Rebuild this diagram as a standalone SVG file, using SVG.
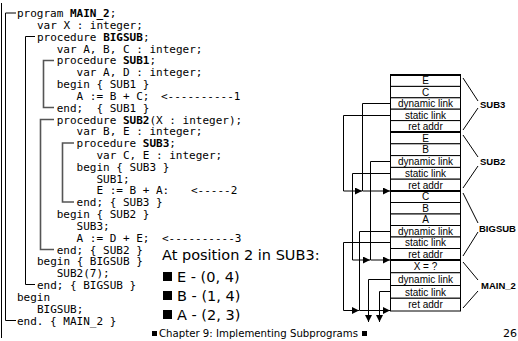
<svg xmlns="http://www.w3.org/2000/svg" width="518" height="341" viewBox="0 0 518 341">
<style>
.code{font-family:"DejaVu Sans Mono",monospace;font-size:11px;fill:#000;white-space:pre}
.b{font-weight:bold}
.br{fill:none;stroke:#000;stroke-width:1}
.br2{fill:none;stroke:#555;stroke-width:1.6}
.cell{font-family:"Liberation Sans",Arial,sans-serif;font-size:10px;fill:#000;text-anchor:middle}
.lab{font-family:"Liberation Sans",Arial,sans-serif;font-size:9.5px;font-weight:bold;fill:#000}
.big{font-family:"DejaVu Sans",Verdana,sans-serif;font-size:14.5px;fill:#000}
.foot{font-family:"DejaVu Sans",Verdana,sans-serif;font-size:10px;fill:#000}
.row{fill:#fff;stroke:#000;stroke-width:1}
.sep{stroke:#000;stroke-width:2}
.conn{fill:none;stroke:#000;stroke-width:1}
.brace{fill:none;stroke:#000;stroke-width:1}
</style>
<defs>
<marker id="ah" markerUnits="userSpaceOnUse" markerWidth="7" markerHeight="7" refX="7" refY="3.5" orient="auto">
<path d="M0,0 L7,3.5 L0,7 z" fill="#000"/>
</marker>
</defs>
<rect width="518" height="341" fill="#fff"/>

<g id="code">
<line x1="1.5" y1="3" x2="1.5" y2="338" class="br"/>
<path class="br" d="M16,13 H5.5 V320.5 H16"/>
<path class="br" d="M35,36.5 H25.5 V284.5 H35"/>
<path class="br2" d="M54,60.5 H43.5 V107.5 H54"/>
<path class="br2" d="M54,119.5 H40.5 V249.5 H54"/>
<path class="br2" d="M74,143 H62.5 V202 H74"/>
<text class="code" x="17" y="17">program <tspan class="b">MAIN_2</tspan>;</text>
<text class="code" x="36.9" y="28.8">var X : integer;</text>
<text class="code" x="36.9" y="40.7">procedure <tspan class="b">BIGSUB</tspan>;</text>
<text class="code" x="56.7" y="52.5">var A, B, C : integer;</text>
<text class="code" x="56.7" y="64.3">procedure <tspan class="b">SUB1</tspan>;</text>
<text class="code" x="76.6" y="76.2">var A, D : integer;</text>
<text class="code" x="56.7" y="88">begin { SUB1 }</text>
<text class="code" x="76.6" y="99.8">A := B + C;</text>
<text class="code" x="161" y="99.8">&lt;----------1</text>
<text class="code" x="56.7" y="111.6">end;  { SUB1 }</text>
<text class="code" x="56.7" y="123.5">procedure <tspan class="b">SUB2</tspan>(X : integer);</text>
<text class="code" x="76.6" y="135.3">var B, E : integer;</text>
<text class="code" x="76.6" y="147.1">procedure <tspan class="b">SUB3</tspan>;</text>
<text class="code" x="96.4" y="159">var C, E : integer;</text>
<text class="code" x="76.6" y="170.8">begin { SUB3 }</text>
<text class="code" x="96.4" y="182.6">SUB1;</text>
<text class="code" x="96.4" y="194.4">E := B + A:</text>
<text class="code" x="191" y="194.4">&lt;-----2</text>
<text class="code" x="76.6" y="206.3">end; { SUB3 }</text>
<text class="code" x="56.7" y="218.1">begin { SUB2 }</text>
<text class="code" x="76.6" y="229.9">SUB3;</text>
<text class="code" x="76.6" y="241.8">A := D + E;</text>
<text class="code" x="162" y="241.8">&lt;----------3</text>
<text class="code" x="56.7" y="253.6">end; { SUB2 }</text>
<text class="code" x="36.9" y="265.4">begin { BIGSUB }</text>
<text class="code" x="56.7" y="277.2">SUB2(7);</text>
<text class="code" x="36.9" y="289.1">end; { BIGSUB }</text>
<text class="code" x="17" y="300.9">begin</text>
<text class="code" x="36.9" y="312.7">BIGSUB;</text>
<text class="code" x="17" y="324.6">end. { MAIN_2 }</text>
</g>

<g id="note">
<text class="big" x="162" y="260">At position 2 in SUB3:</text>
<rect x="163" y="272" width="9" height="9" fill="#000"/>
<text class="big" x="177" y="281.5">E - (0, 4)</text>
<rect x="163" y="291" width="9" height="9" fill="#000"/>
<text class="big" x="177" y="300.5">B - (1, 4)</text>
<rect x="163" y="310" width="9" height="9" fill="#000"/>
<text class="big" x="177" y="319.5">A - (2, 3)</text>
</g>

<g id="footer">
<rect x="152" y="331" width="5" height="5" fill="#000"/>
<text class="foot" x="159" y="337" textLength="199" lengthAdjust="spacingAndGlyphs">Chapter 9: Implementing Subprograms</text>
<rect x="362" y="331" width="5" height="5" fill="#000"/>
<text class="foot" x="503" y="337" style="font-size:11px">26</text>
</g>

<g id="stack">
<g id="frame-SUB3">
<rect class="row" x="390.5" y="75" width="70" height="11.4"/>
<rect class="row" x="390.5" y="86.4" width="70" height="11.4"/>
<rect class="row" x="390.5" y="97.8" width="70" height="11.4"/>
<rect class="row" x="390.5" y="109.2" width="70" height="11.4"/>
<rect class="row" x="390.5" y="120.6" width="70" height="11.4"/>
<text class="cell" x="425.5" y="84.3">E</text>
<text class="cell" x="425.5" y="95.7">C</text>
<text class="cell" x="425.5" y="107.1">dynamic link</text>
<text class="cell" x="425.5" y="118.5">static link</text>
<text class="cell" x="425.5" y="129.9">ret addr</text>
</g>
<g id="frame-SUB2">
<rect class="row" x="390.5" y="132" width="70" height="11.8"/>
<rect class="row" x="390.5" y="143.8" width="70" height="11.8"/>
<rect class="row" x="390.5" y="155.6" width="70" height="11.8"/>
<rect class="row" x="390.5" y="167.4" width="70" height="11.8"/>
<rect class="row" x="390.5" y="179.2" width="70" height="11.8"/>
<text class="cell" x="425.5" y="141.5">E</text>
<text class="cell" x="425.5" y="153.3">B</text>
<text class="cell" x="425.5" y="165.1">dynamic link</text>
<text class="cell" x="425.5" y="176.9">static link</text>
<text class="cell" x="425.5" y="188.7">ret addr</text>
</g>
<g id="frame-BIGSUB">
<rect class="row" x="390.5" y="191" width="70" height="11.5"/>
<rect class="row" x="390.5" y="202.5" width="70" height="11.5"/>
<rect class="row" x="390.5" y="214" width="70" height="11.5"/>
<rect class="row" x="390.5" y="225.5" width="70" height="11.5"/>
<rect class="row" x="390.5" y="237" width="70" height="11.5"/>
<rect class="row" x="390.5" y="248.5" width="70" height="11.5"/>
<text class="cell" x="425.5" y="200.4">C</text>
<text class="cell" x="425.5" y="211.9">B</text>
<text class="cell" x="425.5" y="223.4">A</text>
<text class="cell" x="425.5" y="234.9">dynamic link</text>
<text class="cell" x="425.5" y="246.4">static link</text>
<text class="cell" x="425.5" y="257.9">ret addr</text>
</g>
<g id="frame-MAIN_2">
<rect class="row" x="390.5" y="260" width="70" height="12.75"/>
<rect class="row" x="390.5" y="272.75" width="70" height="12.75"/>
<rect class="row" x="390.5" y="285.5" width="70" height="12.75"/>
<rect class="row" x="390.5" y="298.25" width="70" height="12.75"/>
<text class="cell" x="425.5" y="270">X = ?</text>
<text class="cell" x="425.5" y="282.7">dynamic link</text>
<text class="cell" x="425.5" y="295.5">static link</text>
<text class="cell" x="425.5" y="308.2">ret addr</text>
</g>
<line class="sep" x1="390" y1="75" x2="461" y2="75"/>
<line class="sep" x1="390" y1="132" x2="461" y2="132"/>
<line class="sep" x1="390" y1="191" x2="461" y2="191"/>
<line class="sep" x1="390" y1="260" x2="461" y2="260"/>
</g>

<g id="labels">
<path class="brace" d="M463,78 L478,101 M478,108 L463,130"/>
<text class="lab" x="480" y="107.5">SUB3</text>
<path class="brace" d="M463,135 L478,157 M478,166 L463,188"/>
<text class="lab" x="480" y="165">SUB2</text>
<path class="brace" d="M463,193 L478,223 M478,232 L463,256"/>
<text class="lab" x="479" y="231.5">BIGSUB</text>
<path class="brace" d="M463,262 L478,280 M478,291 L463,308"/>
<text class="lab" x="481" y="288.5">MAIN_2</text>
</g>

<g id="connectors">
<path class="conn" d="M390,103.5 H362.5 V191 H390" marker-end="url(#ah)"/>
<path class="conn" d="M390,115.5 H343.5 V191 H362" marker-end="url(#ah)"/>
<path class="conn" d="M390,161.5 H370.5 V260 H390" marker-end="url(#ah)"/>
<path class="conn" d="M390,173.5 H352.5 V260 H370" marker-end="url(#ah)"/>
<path class="conn" d="M390,231.5 H359.5 V310.5 H390" marker-end="url(#ah)"/>
<path class="conn" d="M390,242.5 H343.5 V310.5 H359" marker-end="url(#ah)"/>
<path class="conn" d="M390,279.5 H368.5 V322" marker-end="url(#ah)"/>
<path class="conn" d="M390,291.5 H379.5 V322" marker-end="url(#ah)"/>
</g>
</svg>
